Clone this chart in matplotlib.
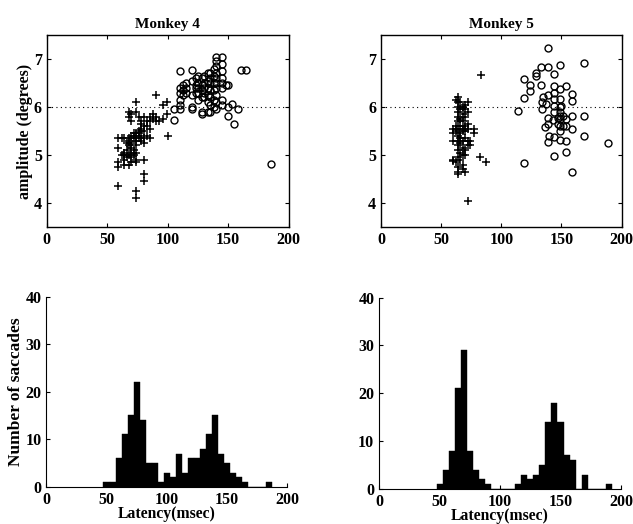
import numpy as np
import matplotlib
matplotlib.use('Agg')
import matplotlib.pyplot as plt

# ---- Monkey 4 scatter: latency (msec), amplitude (deg) ----
m4_plus_lat = [59, 59, 59, 59, 59, 62, 62, 64, 64, 64, 64, 64, 66, 66, 66,
               68, 68, 68, 68, 68, 68, 68, 70, 70, 70, 70, 70, 70, 70, 70,
               72, 72, 72, 72, 74, 74, 74, 74, 74, 74, 74, 74, 74, 74, 74,
               76, 76, 76, 76, 78, 78, 78, 78, 78, 80, 80, 80, 80, 80, 80, 80, 80,
               83, 83, 83, 85, 85, 85, 85, 88, 88, 90, 90, 90, 93, 96, 96, 99, 99, 100]
m4_plus_amp = [4.35, 4.75, 4.85, 5.15, 5.35, 5.35, 5.0, 4.8, 4.9, 5.0, 5.35, 5.05, 5.1, 5.25, 4.95,
               5.0, 5.2, 5.3, 5.35, 4.8, 5.8, 5.9, 5.05, 5.15, 5.25, 5.4, 4.95, 4.85, 5.7, 5.85,
               5.35, 5.45, 5.1, 5.0, 6.1, 5.9, 5.45, 5.4, 5.3, 5.2, 5.05, 4.9, 4.85, 4.25, 4.1,
               5.8, 5.5, 5.35, 5.45, 5.7, 5.55, 5.4, 5.3, 5.65, 5.5, 5.35, 5.25, 4.9, 4.6, 4.45, 5.8, 5.6,
               5.6, 5.4, 5.7, 5.8, 5.55, 5.35, 5.7, 5.85, 5.75, 6.25, 5.8, 5.7, 5.7, 6.05, 5.75, 6.1, 5.85, 5.4]

m4_circ_lat = [105, 105, 110, 110, 110, 110, 110, 110, 113, 113, 113, 115, 115, 115,
               120, 120, 120, 120, 120, 123, 123, 123, 123, 125, 125, 125, 125, 125,
               128, 128, 128, 128, 128, 128, 130, 130, 130, 130, 130,
               133, 133, 133, 133, 133, 133, 135, 135, 135, 135, 135, 135, 135,
               138, 138, 138, 138, 138, 138, 140, 140, 140, 140, 140, 140, 140, 140, 140, 140,
               145, 145, 145, 145, 145, 145, 145, 145, 148, 150, 150, 150, 153, 155, 158,
               161, 165, 185]
m4_circ_amp = [5.95, 5.73, 6.75, 6.4, 6.3, 6.15, 6.05, 5.95, 6.45, 6.35, 6.25, 6.5, 6.4, 6.3,
               6.78, 6.55, 6.25, 6.0, 5.95, 6.6, 6.4, 6.3, 6.45, 6.65, 6.5, 6.4, 6.3, 6.15,
               6.6, 6.45, 6.35, 6.2, 5.9, 5.85, 6.65, 6.5, 6.4, 6.3, 6.2,
               6.7, 6.55, 6.4, 6.25, 6.1, 5.9, 6.7, 6.6, 6.5, 6.35, 6.2, 6.05, 5.9,
               6.8, 6.65, 6.5, 6.35, 6.0, 6.15, 7.05, 6.95, 6.85, 6.7, 6.6, 6.5, 6.4, 6.25, 6.1, 5.95,
               7.05, 6.9, 6.75, 6.6, 6.5, 6.4, 6.15, 6.05, 6.45, 6.45, 6.0, 5.82, 6.06, 5.65, 5.96,
               6.77, 6.77, 4.82]

# ---- Monkey 5 scatter ----
m5_plus_lat = [60, 60, 60, 60, 60, 62, 62, 62, 62,
               64, 64, 64, 64, 64, 64, 64, 64, 64, 64, 64, 64, 64, 64, 64,
               66, 66, 66, 66, 66, 66, 66, 66, 66,
               68, 68, 68, 68, 68, 68, 68, 68, 68, 68,
               70, 70, 70, 70, 70, 70, 70, 70, 70,
               72, 72, 72, 72, 72, 72, 72, 74, 74, 77, 77, 83, 82, 87]
m5_plus_amp = [5.55, 5.45, 5.3, 4.9, 4.88, 6.15, 5.6, 5.5, 4.85,
               6.2, 6.1, 6.0, 5.9, 5.8, 5.7, 5.55, 5.4, 5.3, 5.2, 5.1, 4.95, 4.75, 4.6, 4.65,
               6.1, 5.95, 5.75, 5.6, 5.45, 5.35, 5.25, 5.05, 4.9,
               6.0, 5.85, 5.7, 5.55, 5.5, 5.3, 5.15, 5.0, 4.8, 4.7,
               6.05, 5.95, 5.8, 5.6, 5.5, 5.35, 5.1, 5.0, 4.65,
               6.1, 5.9, 5.65, 5.55, 5.3, 5.2, 4.05, 5.3, 5.2, 5.55, 5.45, 6.67, 4.95, 4.85]

m5_circ_lat = [139, 169, 149, 139, 133, 129, 129, 119, 124, 124, 119, 114, 119,
               133, 135, 134, 134, 139, 139, 139, 144, 144, 144, 144, 144, 144, 144, 144,
               149, 149, 149, 149, 149, 149, 149, 149, 154, 154, 154, 154, 154,
               159, 159, 159, 159, 159, 169, 169, 189, 137, 136, 140, 147, 147, 151, 151,
               139, 149, 150, 143]
m5_circ_amp = [7.24, 6.91, 6.88, 6.84, 6.83, 6.72, 6.64, 6.58, 6.46, 6.34, 6.19, 5.92, 4.83,
               6.46, 6.2, 6.1, 5.96, 5.78, 5.65, 5.28, 5.37, 4.98, 6.69, 6.44, 6.3, 6.17, 6.03, 5.89,
               6.37, 6.17, 6.0, 5.89, 5.75, 5.61, 5.51, 5.32, 6.44, 5.75, 5.61, 5.3, 5.06,
               6.27, 6.13, 5.82, 5.54, 4.64, 5.82, 5.39, 5.25, 6.06, 5.58, 5.4, 5.78, 5.65, 5.82, 5.61,
               6.25, 5.82, 6.03, 5.72]

# ---- Latency histograms (5 msec bins, centers) ----
m4_bins = [50, 55, 60, 65, 70, 75, 80, 85, 90, 95, 100, 105, 110, 115, 120, 125,
           130, 135, 140, 145, 150, 155, 160, 165, 170, 175, 180, 185]
m4_counts = [1, 1, 6, 11, 15, 22, 14, 5, 5, 1, 3, 2, 7, 3, 6, 6,
             8, 11, 15, 7, 5, 3, 2, 1, 0, 0, 0, 1]
m5_bins = [50, 55, 60, 65, 70, 75, 80, 85, 90, 95, 100, 105, 110, 115, 120, 125,
           130, 135, 140, 145, 150, 155, 160, 165, 170, 175, 180, 185, 190]
m5_counts = [1, 4, 8, 21, 29, 8, 4, 2, 1, 0, 0, 0, 0, 1, 3, 2,
             3, 5, 14, 18, 14, 7, 6, 0, 3, 0, 0, 0, 1]

plt.rcParams['font.family'] = ['Liberation Serif', 'DejaVu Serif']
plt.rcParams['font.weight'] = 'bold'
plt.rcParams['font.size'] = 11.5
plt.rcParams['xtick.direction'] = 'in'
plt.rcParams['ytick.direction'] = 'in'

fig = plt.figure(figsize=(6.33, 5.24), dpi=100)

ax1 = fig.add_axes([0.074, 0.567, 0.382, 0.366])
ax2 = fig.add_axes([0.602, 0.567, 0.380, 0.366])
ax3 = fig.add_axes([0.073, 0.071, 0.381, 0.363])
ax4 = fig.add_axes([0.599, 0.067, 0.382, 0.365])


def scatter_panel(ax, plat, pamp, clat, camp, title):
    ax.axhline(6, color='black', linestyle=(0, (1, 3)), linewidth=0.8)
    ax.plot(plat, pamp, '+', color='black', markersize=5.5, markeredgewidth=1.1)
    ax.plot(clat, camp, 'o', markerfacecolor='none', markeredgecolor='black',
            markersize=5, markeredgewidth=1.0)
    ax.set_xlim(0, 200)
    ax.set_ylim(3.5, 7.5)
    ax.set_xticks([0, 50, 100, 150, 200])
    ax.set_yticks([4, 5, 6, 7])
    ax.tick_params(top=True, right=True, length=3, width=0.8, pad=3.5)
    for s in ax.spines.values():
        s.set_linewidth(1.0)
    ax.set_title(title, fontsize=11, fontweight='bold', pad=5)


def hist_panel(ax, bins, counts):
    ax.bar(bins, counts, width=5, color='black', edgecolor='black', linewidth=0.3)
    ax.set_xlim(0, 200)
    ax.set_ylim(0, 40)
    ax.set_xticks([0, 50, 100, 150, 200])
    ax.set_yticks([0, 10, 20, 30, 40])
    ax.spines['top'].set_visible(False)
    ax.spines['right'].set_visible(False)
    ax.tick_params(length=3, width=0.8, pad=3.5)
    ax.set_xlabel('Latency(msec)', fontsize=11.3, fontweight='bold', labelpad=-1)


scatter_panel(ax1, m4_plus_lat, m4_plus_amp, m4_circ_lat, m4_circ_amp, 'Monkey 4')
scatter_panel(ax2, m5_plus_lat, m5_plus_amp, m5_circ_lat, m5_circ_amp, 'Monkey 5')
ax1.set_ylabel('amplitude (degrees)', fontsize=11.5, fontweight='bold', labelpad=1)

hist_panel(ax3, m4_bins, m4_counts)
hist_panel(ax4, m5_bins, m5_counts)
ax3.set_ylabel('Number of saccades', fontsize=12.5, fontweight='bold', labelpad=1)

plt.savefig('out.png', dpi=100)
